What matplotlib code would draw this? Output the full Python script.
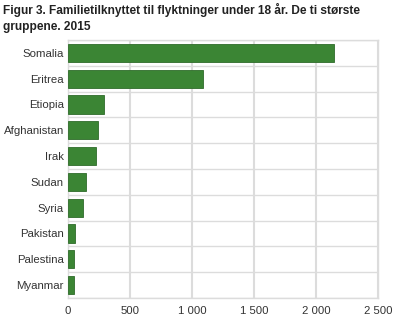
import numpy as np
import matplotlib.pyplot as plt
from matplotlib.ticker import FuncFormatter, MultipleLocator

plt.rcParams["font.family"] = ["Liberation Sans", "DejaVu Sans"]

countries = ["Somalia", "Eritrea", "Etiopia", "Afghanistan", "Irak",
             "Sudan", "Syria", "Pakistan", "Palestina", "Myanmar"]
values = [2145, 1090, 288, 240, 228, 148, 118, 55, 47, 45]
title = "Figur 3. Familietilknyttet til flyktninger under 18 år. De ti største\ngruppene. 2015"

fig = plt.figure(figsize=(4, 3.2), dpi=100)
ax = fig.add_axes([68 / 400, 1 - 298 / 320, (378 - 68) / 400, (298 - 40) / 320])

y = np.arange(len(countries))
ax.barh(y, values, height=0.7, color="#3b8534", edgecolor="#2f6b2a", linewidth=0.6, zorder=3)

ax.set_ylim(len(countries) - 0.5, -0.5)
ax.set_xlim(0, 2500)
ax.set_yticks(y)
ax.set_yticklabels(countries)
ax.xaxis.set_major_locator(MultipleLocator(500))
ax.xaxis.set_major_formatter(FuncFormatter(lambda v, p: f"{int(v):,}".replace(",", " ")))

# category separators and value grid
for b in np.arange(-0.5, len(countries), 1):
    ax.axhline(b, color="#dcdcdc", linewidth=1, zorder=1)
ax.grid(axis="x", color="#dcdcdc", linewidth=1.5, zorder=1)

for s in ax.spines.values():
    s.set_color("#dcdcdc")
    s.set_linewidth(1)
ax.tick_params(length=0, labelsize=8.2, colors="#333333", pad=3)
ax.tick_params(axis="x", pad=6)

fig.text(3 / 400, 1 - 3 / 320, title, fontsize=8.6, fontweight="bold",
         color="#222222", va="top", ha="left", linespacing=1.45)

fig.savefig("out.png", dpi=100)
